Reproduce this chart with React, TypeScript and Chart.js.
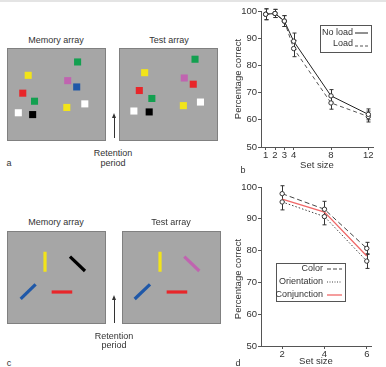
import React, { useEffect, useRef } from "react";
import { Chart, registerables } from "chart.js";
Chart.register(...registerables);

const FONT = "'Liberation Sans', Arial, Helvetica, sans-serif";
const TEXT = "#333333";
const AXIS = "#555555";

// ---------- Panel b data ----------
const setSizesB = [1, 2, 3, 4, 8, 12];
const noLoad = [98.8, 99.1, 96.3, 88.9, 68.8, 62.0];
const noLoadErr = [2, 1.5, 2, 3, 2.3, 2];
const load = [98.8, 99.1, 96.3, 86.2, 66.2, 61.2];
const loadErr = [2, 1.5, 2, 3, 2.3, 2];
const yTicks = [50, 60, 70, 80, 90, 100];

// ---------- Panel d data ----------
const setSizesD = [2, 4, 6];
const colorVals = [97.9, 93.0, 80.7];
const colorErr = [2.5, 2.5, 1.9];
const orientVals = [95.3, 90.7, 76.7];
const orientErr = [2.5, 2.6, 2.3];
const conjVals = [96.2, 92.1, 78.3];

// ---------- Panel a (square positions, % of box) ----------
const GREEN = "#13a050";
const YELLOW = "#f2e41a";
const MAGENTA = "#c064b0";
const BLUE = "#1f58a8";
const RED = "#e8262a";
const WHITE = "#ffffff";
const BLACK = "#000000";

const memSqX = [73.7, 18.2, 62.6, 72.7, 12.1, 25.3, 61.6, 81.8, 7.1, 23.2];
const memSqY = [10.8, 26.9, 33.3, 40.9, 48.4, 58.1, 65.6, 61.3, 72.0, 74.2];
const memSqC = [GREEN, YELLOW, MAGENTA, BLUE, RED, GREEN, YELLOW, WHITE, WHITE, BLACK];

const testSqX = [79.8, 23.2, 67.7, 77.8, 17.2, 31.3, 66.7, 85.9, 11.1, 28.3];
const testSqY = [7.5, 23.7, 30.1, 37.6, 45.2, 54.8, 63.4, 59.1, 69.9, 71.0];
const testSqC = [GREEN, YELLOW, MAGENTA, RED, RED, GREEN, YELLOW, WHITE, WHITE, BLACK];

// ---------- Panel c (bar endpoints, % of box) ----------
const memBarX1 = [38.4, 63.6, 13.8, 45.1];
const memBarY1 = [22.2, 27.6, 73.1, 65.6];
const memBarX2 = [38.4, 78.8, 28.9, 65.9];
const memBarY2 = [43.7, 43.0, 57.3, 65.6];
const memBarC = [YELLOW, BLACK, BLUE, RED];

const testBarX1 = [38.4, 62.9, 12.8, 45.1];
const testBarY1 = [22.2, 27.6, 73.1, 65.6];
const testBarX2 = [38.4, 78.1, 28.3, 65.9];
const testBarY2 = [43.7, 43.0, 57.3, 65.6];
const testBarC = [YELLOW, MAGENTA, BLUE, RED];

// ---------- plugins ----------
const errorBarPlugin = {
  id: "errorBars",
  beforeDatasetsDraw(chart: any) {
    const { ctx } = chart;
    const x = chart.scales.x;
    const y = chart.scales.y;
    chart.data.datasets.forEach((ds: any) => {
      if (!ds.errors) return;
      ctx.save();
      ctx.strokeStyle = ds.errorColor || "#333";
      ctx.lineWidth = 1;
      ctx.setLineDash([]);
      ds.data.forEach((p: any, j: number) => {
        const e = ds.errors[j];
        if (!e) return;
        const px = Math.round(x.getPixelForValue(p.x)) + 0.5;
        const yTop = y.getPixelForValue(p.y + e);
        const yBot = y.getPixelForValue(p.y - e);
        ctx.beginPath();
        ctx.moveTo(px, yTop);
        ctx.lineTo(px, yBot);
        ctx.moveTo(px - 2, yTop);
        ctx.lineTo(px + 2, yTop);
        ctx.moveTo(px - 2, yBot);
        ctx.lineTo(px + 2, yBot);
        ctx.stroke();
      });
      ctx.restore();
    });
  },
};

function yTitlePlugin(text: string, x: number, y: number) {
  return {
    id: "yTitle",
    afterDraw(chart: any) {
      const ctx = chart.ctx;
      ctx.save();
      ctx.translate(x, y);
      ctx.rotate(-Math.PI / 2);
      ctx.font = `9.5px ${FONT}`;
      ctx.fillStyle = TEXT;
      ctx.textAlign = "center";
      ctx.textBaseline = "middle";
      ctx.fillText(text, 0, 0);
      ctx.restore();
    },
  };
}

type LegItem = { label: string; color: string; dash: number[]; width: number; dy: number };
function legendPlugin(
  box: { x: number; y: number; w: number; h: number; textRight: number; lx1: number; lx2: number; rows: number[] },
  items: LegItem[]
) {
  return {
    id: "customLegend",
    afterDraw(chart: any) {
      const ctx = chart.ctx;
      ctx.save();
      ctx.fillStyle = "#ffffff";
      ctx.fillRect(box.x, box.y, box.w, box.h);
      ctx.strokeStyle = "#555";
      ctx.lineWidth = 1;
      ctx.setLineDash([]);
      ctx.strokeRect(box.x + 0.5, box.y + 0.5, box.w, box.h);
      ctx.font = `9px ${FONT}`;
      ctx.textAlign = "right";
      ctx.textBaseline = "middle";
      items.forEach((it, i) => {
        const yy = box.rows[i];
        ctx.fillStyle = TEXT;
        ctx.fillText(it.label, box.textRight, yy);
        ctx.strokeStyle = it.color;
        ctx.lineWidth = it.width;
        ctx.setLineDash(it.dash);
        ctx.beginPath();
        ctx.moveTo(box.lx1, yy + it.dy);
        ctx.lineTo(box.lx2, yy + it.dy);
        ctx.stroke();
        ctx.setLineDash([]);
      });
      ctx.restore();
    },
  };
}

const boxBgPlugin = {
  id: "boxBg",
  beforeDraw(chart: any) {
    const { ctx, width, height } = chart;
    ctx.save();
    ctx.fillStyle = "#a6a6a6";
    ctx.fillRect(0, 0, width, height);
    ctx.strokeStyle = "#808080";
    ctx.lineWidth = 1;
    ctx.strokeRect(0.5, 0.5, width - 1, height - 1);
    ctx.restore();
  },
};

const pts = (xs: number[], ys: number[]) => xs.map((x, i) => ({ x, y: ys[i] }));

function axisFont(size = 9.5) {
  return { family: FONT, size };
}

// ---------- configs ----------
function configB() {
  return {
    type: "scatter",
    data: {
      datasets: [
        {
          label: "No load",
          data: pts(setSizesB, noLoad),
          errors: noLoadErr,
          errorColor: "#333",
          showLine: true,
          borderColor: "#222",
          borderWidth: 1,
          pointStyle: "circle",
          pointRadius: 2.2,
          pointBackgroundColor: "#fff",
          pointBorderColor: "#333",
          pointBorderWidth: 1,
        },
        {
          label: "Load",
          data: pts(setSizesB, load),
          errors: loadErr,
          errorColor: "#333",
          showLine: true,
          borderColor: "#555",
          borderWidth: 1,
          borderDash: [4, 3],
          pointStyle: "circle",
          pointRadius: 2.2,
          pointBackgroundColor: "#fff",
          pointBorderColor: "#333",
          pointBorderWidth: 1,
        },
      ],
    },
    options: {
      animation: false,
      responsive: false,
      devicePixelRatio: 1,
      events: [],
      layout: { padding: { top: 11, right: 13, left: 0, bottom: 0 } },
      plugins: { legend: { display: false }, tooltip: { enabled: false } },
      scales: {
        x: {
          type: "linear",
          min: 0.5,
          max: 12.5,
          afterBuildTicks: (s: any) => {
            s.ticks = setSizesB.map((v) => ({ value: v }));
          },
          afterFit: (s: any) => {
            s.height = 33;
          },
          grid: { display: true, drawOnChartArea: false, drawTicks: true, tickLength: 3, color: AXIS },
          border: { color: AXIS, width: 1 },
          ticks: { color: TEXT, font: axisFont(), padding: 0, maxRotation: 0, autoSkip: false },
          title: {
            display: true,
            text: "Set size",
            color: TEXT,
            font: axisFont(),
            padding: { top: 0, bottom: 8.5 },
          },
        },
        y: {
          type: "linear",
          min: 50,
          max: 100,
          afterBuildTicks: (s: any) => {
            s.ticks = yTicks.map((v) => ({ value: v }));
          },
          afterFit: (s: any) => {
            s.width = 36;
          },
          grid: { display: true, drawOnChartArea: false, drawTicks: true, tickLength: 3, color: AXIS },
          border: { color: AXIS, width: 1 },
          ticks: { color: TEXT, font: axisFont(), padding: 1 },
          title: { display: false },
        },
      },
    },
    plugins: [
      errorBarPlugin,
      yTitlePlugin("Percentage correct", 13, 79),
      legendPlugin(
        { x: 95, y: 25, w: 51, h: 27, textRight: 128, lx1: 130, lx2: 143, rows: [33, 44] },
        [
          { label: "No load", color: "#222", dash: [], width: 1, dy: 0 },
          { label: "Load", color: "#555", dash: [3, 2], width: 1, dy: 2 },
        ]
      ),
    ],
  };
}

function configD() {
  return {
    type: "scatter",
    data: {
      datasets: [
        {
          label: "Color",
          data: pts(setSizesD, colorVals),
          errors: colorErr,
          errorColor: "#333",
          showLine: true,
          borderColor: "#444",
          borderWidth: 1,
          borderDash: [5, 3],
          pointStyle: "circle",
          pointRadius: 2.2,
          pointBackgroundColor: "#fff",
          pointBorderColor: "#333",
          pointBorderWidth: 1,
        },
        {
          label: "Orientation",
          data: pts(setSizesD, orientVals),
          errors: orientErr,
          errorColor: "#333",
          showLine: true,
          borderColor: "#444",
          borderWidth: 1,
          borderDash: [1.5, 2],
          pointStyle: "circle",
          pointRadius: 2.2,
          pointBackgroundColor: "#fff",
          pointBorderColor: "#333",
          pointBorderWidth: 1,
        },
        {
          label: "Conjunction",
          data: pts(setSizesD, conjVals),
          showLine: true,
          borderColor: "#f06868",
          borderWidth: 1.3,
          pointRadius: 0,
        },
      ],
    },
    options: {
      animation: false,
      responsive: false,
      devicePixelRatio: 1,
      events: [],
      layout: { padding: { top: 7, right: 15, left: 0, bottom: 0 } },
      plugins: { legend: { display: false }, tooltip: { enabled: false } },
      scales: {
        x: {
          type: "linear",
          min: 1,
          max: 6.2,
          afterBuildTicks: (s: any) => {
            s.ticks = setSizesD.map((v) => ({ value: v }));
          },
          afterFit: (s: any) => {
            s.height = 21;
          },
          grid: { display: true, drawOnChartArea: false, drawTicks: true, tickLength: 3, color: AXIS },
          border: { color: AXIS, width: 1 },
          ticks: { color: TEXT, font: axisFont(), padding: 0, maxRotation: 0, autoSkip: false },
          title: {
            display: true,
            text: "Set size",
            color: TEXT,
            font: axisFont(),
            padding: { top: 0, bottom: 0 },
          },
        },
        y: {
          type: "linear",
          min: 50,
          max: 100,
          afterBuildTicks: (s: any) => {
            s.ticks = yTicks.map((v) => ({ value: v }));
          },
          afterFit: (s: any) => {
            s.width = 36;
          },
          grid: { display: true, drawOnChartArea: false, drawTicks: true, tickLength: 3, color: AXIS },
          border: { color: AXIS, width: 1 },
          ticks: { color: TEXT, font: axisFont(), padding: 1 },
          title: { display: false },
        },
      },
    },
    plugins: [
      errorBarPlugin,
      yTitlePlugin("Percentage correct", 13, 99),
      legendPlugin(
        { x: 51, y: 83, w: 69, h: 38, textRight: 98, lx1: 102, lx2: 117, rows: [89, 102, 115] },
        [
          { label: "Color", color: "#444", dash: [4, 2], width: 1, dy: 0 },
          { label: "Orientation", color: "#444", dash: [1, 1.5], width: 1, dy: 0 },
          { label: "Conjunction", color: "#f06868", dash: [], width: 1.3, dy: 0 },
        ]
      ),
    ],
  };
}

function boxConfig(datasets: any[]) {
  return {
    type: "scatter",
    data: { datasets },
    options: {
      animation: false,
      responsive: false,
      devicePixelRatio: 1,
      events: [],
      layout: { padding: 0 },
      plugins: { legend: { display: false }, tooltip: { enabled: false } },
      scales: {
        x: { display: false, min: 0, max: 100 },
        y: { display: false, min: 0, max: 100, reverse: true },
      },
    },
    plugins: [boxBgPlugin],
  };
}

function squaresConfig(xs: number[], ys: number[], cs: string[]) {
  return boxConfig([
    {
      data: pts(xs, ys),
      pointStyle: "rect",
      pointRadius: 5,
      pointBackgroundColor: cs,
      pointBorderWidth: 0,
      showLine: false,
    },
  ]);
}

function barsConfig(x1: number[], y1: number[], x2: number[], y2: number[], cs: string[]) {
  return boxConfig(
    cs.map((c, i) => ({
      data: [
        { x: x1[i], y: y1[i] },
        { x: x2[i], y: y2[i] },
      ],
      showLine: true,
      borderColor: c,
      borderWidth: 3.2,
      borderCapStyle: "butt",
      pointRadius: 0,
    }))
  );
}

function ChartCanvas(props: { left: number; top: number; width: number; height: number; make: () => any }) {
  const ref = useRef<HTMLCanvasElement | null>(null);
  useEffect(() => {
    const chart = new Chart(ref.current as HTMLCanvasElement, props.make());
    return () => chart.destroy();
  }, []);
  return (
    <canvas
      ref={ref}
      width={props.width}
      height={props.height}
      style={{ position: "absolute", left: props.left, top: props.top, width: props.width, height: props.height }}
    />
  );
}

function Label(props: { x: number; y: number; text: string; size?: number }) {
  return (
    <div
      style={{
        position: "absolute",
        left: props.x,
        top: props.y,
        transform: "translate(-50%, -50%)",
        fontFamily: FONT,
        fontSize: props.size || 9,
        color: TEXT,
        whiteSpace: "nowrap",
        lineHeight: 1,
      }}
    >
      {props.text}
    </div>
  );
}

function Arrow(props: { x: number; top: number; bottom: number }) {
  return (
    <>
      <div
        style={{
          position: "absolute",
          left: props.x,
          top: props.top + 4,
          width: 1,
          height: props.bottom - props.top - 4,
          background: "#333",
        }}
      />
      <div
        style={{
          position: "absolute",
          left: props.x - 2,
          top: props.top,
          width: 0,
          height: 0,
          borderLeft: "2.5px solid transparent",
          borderRight: "2.5px solid transparent",
          borderBottom: "5px solid #333",
        }}
      />
    </>
  );
}

export default function App() {
  return (
    <div
      style={{
        position: "fixed",
        left: 0,
        top: 0,
        width: 386,
        height: 367,
        background: "#fff",
        overflow: "hidden",
      }}
    >
      <div style={{ position: "absolute", left: 0, top: 0, width: 386, height: 2, background: "#e4e4e4" }} />

      {/* Panel a */}
      <Label x={56} y={40} text="Memory array" />
      <Label x={169} y={40} text="Test array" />
      <ChartCanvas left={7} top={48} width={99} height={93} make={() => squaresConfig(memSqX, memSqY, memSqC)} />
      <ChartCanvas left={119} top={48} width={99} height={93} make={() => squaresConfig(testSqX, testSqY, testSqC)} />
      <Arrow x={114} top={113} bottom={138} />
      <Label x={113} y={153} text="Retention" />
      <Label x={113} y={163} text="period" />
      <Label x={9} y={163} text="a" />

      {/* Panel b */}
      <ChartCanvas left={225} top={0} width={161} height={180} make={configB} />
      <Label x={243} y={170} text="b" />

      {/* Panel c */}
      <Label x={56} y={222} text="Memory array" />
      <Label x={171} y={222} text="Test array" />
      <ChartCanvas left={7} top={231} width={99} height={93} make={() => barsConfig(memBarX1, memBarY1, memBarX2, memBarY2, memBarC)} />
      <ChartCanvas left={122} top={231} width={99} height={93} make={() => barsConfig(testBarX1, testBarY1, testBarX2, testBarY2, testBarC)} />
      <Arrow x={114} top={295} bottom={323} />
      <Label x={114} y={336} text="Retention" />
      <Label x={114} y={345} text="period" />
      <Label x={9} y={363} text="c" />

      {/* Panel d */}
      <ChartCanvas left={225} top={180} width={161} height={187} make={configD} />
      <Label x={238} y={363} text="d" />
    </div>
  );
}
